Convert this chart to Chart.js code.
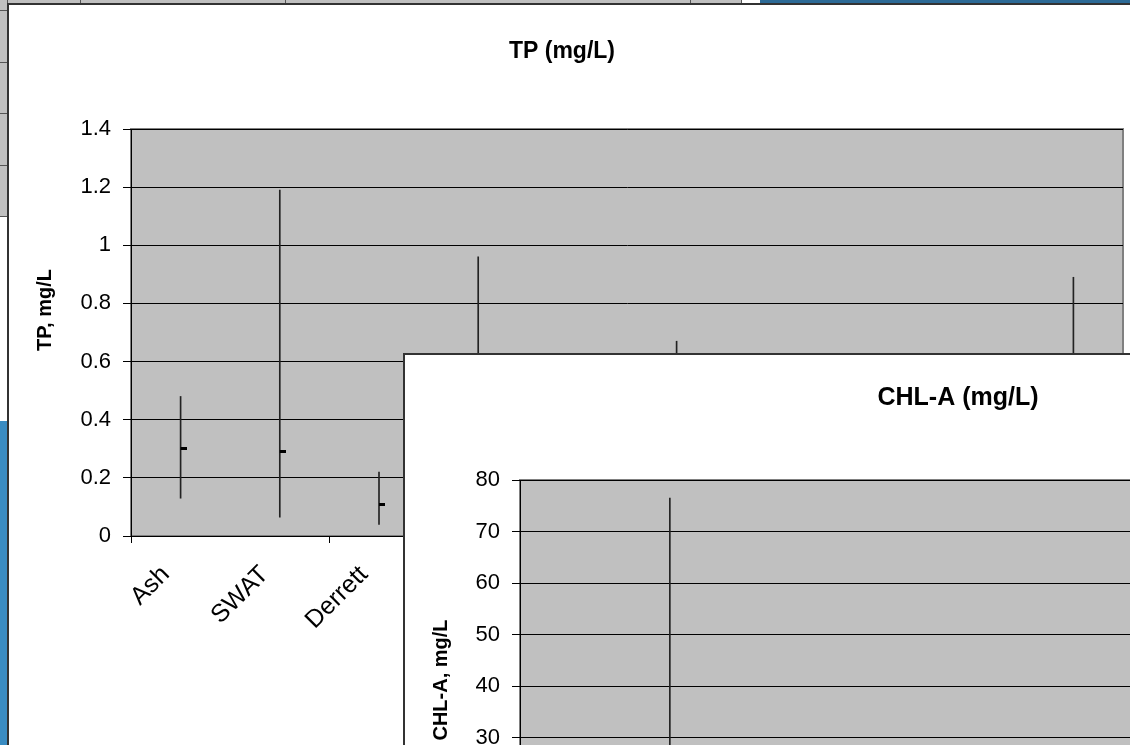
<!DOCTYPE html>
<html>
<head>
<meta charset="utf-8">
<script src="https://cdn.jsdelivr.net/npm/chart.js@4.4.1/dist/chart.umd.min.js"></script>
<style>
  html, body { margin: 0; padding: 0; background: #fff; }
  #page { position: relative; width: 1130px; height: 745px; overflow: hidden; background: #fff; }
  .cell { position: absolute; background: #c0c0c0; box-sizing: border-box; border-right: 1px solid #555; border-bottom: 1px solid #555; }
  .box { position: absolute; background: #fff; border-left: 2px solid #333; border-top: 2px solid #333; }
  .box canvas { display: block; }
</style>
</head>
<body>
<div id="page">
  <!-- spreadsheet behind the charts -->
  <div class="cell" style="left:0;top:0;width:81px;height:4px"></div>
  <div class="cell" style="left:81px;top:0;width:205px;height:4px"></div>
  <div class="cell" style="left:286px;top:0;width:405px;height:4px"></div>
  <div class="cell" style="left:691px;top:0;width:51px;height:4px"></div>
  <div style="position:absolute;left:760px;top:0;width:370px;height:4px;background:#2c6a96"></div>
  <div class="cell" style="left:0;top:0;width:8px;height:11px"></div>
  <div class="cell" style="left:0;top:11px;width:8px;height:52px"></div>
  <div class="cell" style="left:0;top:63px;width:8px;height:51px"></div>
  <div class="cell" style="left:0;top:114px;width:8px;height:52px"></div>
  <div class="cell" style="left:0;top:166px;width:8px;height:51px"></div>
  <div style="position:absolute;left:0;top:421px;width:7px;height:324px;background:#3a8cc2"></div>

  <div class="box" style="left:7px;top:3px;width:1125px;height:770px">
    <canvas id="chartTP" width="1121" height="760"></canvas>
  </div>
  <div class="box" style="left:403px;top:353px;width:1125px;height:770px">
    <canvas id="chartCHL" width="1121" height="760"></canvas>
  </div>
</div>

<script>
// sites (only the first three labels are visible, the rest sit under the second chart)
const sites = ['Ash', 'SWAT', 'Derrett', '', '', '', '', '', '', ''];

// TP, mg/L
const tpHigh = [0.48, 1.19, 0.22, 0.96, 0.50, 0.67, 0.45, 0.40, 0.55, 0.89];
const tpLow  = [0.13, 0.065, 0.04, 0.05, 0.06, 0.05, 0.07, 0.06, 0.05, 0.10];
const tpMean = [0.30, 0.29, 0.11, 0.22, 0.20, 0.18, 0.19, 0.17, 0.21, 0.30];
const tpTicks = [0, 0.2, 0.4, 0.6, 0.8, 1, 1.2, 1.4];

// CHL-A, mg/L
const chlHigh = [24, 76.5, 18, 26, 20, 22, 15, 12, 19, 25];
const chlLow  = [2, 1.5, 1, 2, 1, 2, 1, 1, 1, 2];
const chlMean = [9, 14, 6, 10, 7, 8, 5, 4, 6, 9];
const chlTicks = [0, 10, 20, 30, 40, 50, 60, 70, 80];

const FONT = '"Liberation Sans", Arial, sans-serif';

// little dash to the right of the high-low line, like Excel's close marker
const marker = document.createElement('canvas');
marker.width = 12; marker.height = 3;
const mctx = marker.getContext('2d');
mctx.fillStyle = '#000';
mctx.fillRect(6, 0, 6, 3);

const plotBg = {
  id: 'plotBg',
  beforeDraw(chart) {
    const { ctx, chartArea: a } = chart;
    ctx.save();
    ctx.fillStyle = '#c0c0c0';
    ctx.fillRect(a.left, a.top, a.right - a.left, a.bottom - a.top);
    ctx.strokeStyle = '#808080';
    ctx.lineWidth = 2;
    ctx.strokeRect(a.left, a.top, a.right - a.left, a.bottom - a.top);
    ctx.restore();
  }
};

// chart title and axis title, placed where Excel put them
const labelsPlugin = {
  id: 'xlTexts',
  afterDraw(chart, args, opts) {
    const ctx = chart.ctx;
    (opts.items || []).forEach(t => {
      ctx.save();
      ctx.translate(t.x, t.y);
      ctx.rotate(t.rot || 0);
      ctx.font = 'bold ' + t.size + 'px ' + FONT;
      ctx.fillStyle = '#000';
      ctx.textAlign = 'center';
      ctx.textBaseline = 'middle';
      ctx.fillText(t.text, 0, 0);
      ctx.restore();
    });
  }
};

function makeChart(id, o) {
  const h = document.getElementById(id).height;
  return new Chart(document.getElementById(id), {
    type: 'bar',
    data: {
      labels: sites,
      datasets: [
        {
          type: 'line',
          data: o.mean,
          showLine: false,
          pointStyle: marker,
          pointRadius: 6,
          order: 0
        },
        {
          data: sites.map((_, i) => [o.low[i], o.high[i]]),
          backgroundColor: '#222',
          barThickness: 1,
          order: 1
        }
      ]
    },
    options: {
      responsive: false,
      animation: false,
      layout: { padding: { left: 0, right: 2, top: o.plotTop, bottom: 0 } },
      scales: {
        x: {
          offset: true,
          afterFit: s => { s.height = h - o.plotBottom; },
          ticks: {
            autoSkip: false, minRotation: 45, maxRotation: 45,
            color: '#000', font: { family: FONT, size: 25 }, padding: 17, labelOffset: -15
          },
          grid: {
            offset: true, drawOnChartArea: false, tickLength: 7,
            color: c => c.index % 2 === 0 ? '#000' : 'rgba(0,0,0,0)'
          },
          border: { color: '#000', width: 1 }
        },
        y: {
          min: 0,
          max: o.ticks[o.ticks.length - 1],
          afterFit: s => { s.width = o.yWidth; },
          afterBuildTicks: s => { s.ticks = o.ticks.map(v => ({ value: v })); },
          ticks: {
            color: '#000', font: { family: FONT, size: 22 }, padding: 12,
            callback: v => String(+v.toFixed(1))
          },
          grid: { color: '#000', lineWidth: 1, tickLength: 8 },
          border: { color: '#000', width: 1 }
        }
      },
      plugins: {
        legend: { display: false },
        tooltip: { enabled: false },
        xlTexts: {
          items: [
            { text: o.title, x: 553, y: o.titleY, size: o.titleSize },
            { text: o.yTitle, x: 36, y: o.yTitleY, size: 20, rot: -Math.PI / 2 }
          ]
        }
      }
    },
    plugins: [plotBg, labelsPlugin]
  });
}

makeChart('chartTP', {
  title: 'TP (mg/L)', yTitle: 'TP, mg/L',
  high: tpHigh, low: tpLow, mean: tpMean, ticks: tpTicks,
  yWidth: 122, plotTop: 124, plotBottom: 531, titleY: 47, titleSize: 23, yTitleY: 305
});

makeChart('chartCHL', {
  title: 'CHL-A (mg/L)', yTitle: 'CHL-A, mg/L',
  high: chlHigh, low: chlLow, mean: chlMean, ticks: chlTicks,
  yWidth: 115, plotTop: 125, plotBottom: 537, titleY: 43, titleSize: 25, yTitleY: 325
});
</script>
</body>
</html>
